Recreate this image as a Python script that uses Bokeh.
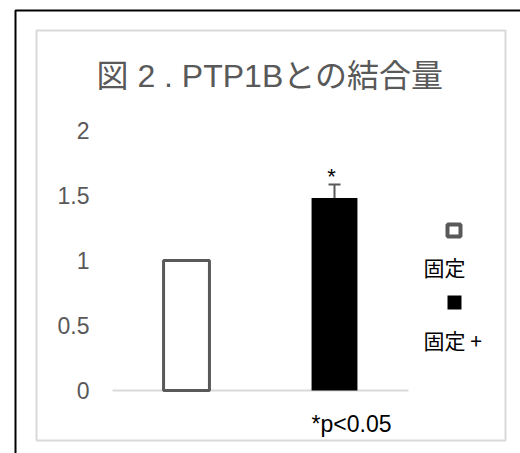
from bokeh.plotting import figure
from bokeh.models import (FactorRange, Range1d, ColumnDataSource, Whisker, TeeHead,
                          BoxAnnotation, Label)
from bokeh.core.properties import value
from bokeh.embed import file_html
from bokeh.resources import INLINE

# ---- data ----
categories = ["固定", "固定 +"]
values = [1.0, 1.48]
errors = [0.0, 0.105]
y_ticks = [0, 0.5, 1, 1.5, 2]
title_text = "図 2 . PTP1Bとの結合量"
note_text = "*p<0.05"

LATIN = "'Liberation Sans', Arial, 'Noto Sans CJK JP'"
CJK = "'Noto Sans CJK JP', 'Liberation Sans'"
GRAY = "#595959"

# ---- layout (pixels) ----
W, H = 520, 453
PL, PR, PT, PB = 110, 406, 130, 390   # plotting area edges (px)
Y0, Y1 = 0, 2
nfac = len(categories)
upp_x = nfac / (PR - PL)              # data units per px
upp_y = (Y1 - Y0) / (PB - PT)
pad = ((PL + (W - PR)) / 2) * upp_x   # per-side padding in synthetic units

x_range = FactorRange(*categories, range_padding=pad / nfac * 2, range_padding_units="percent")
y_range = Range1d(Y0 - (H - PB) * upp_y, Y1 + PT * upp_y)

p = figure(width=W, height=H, x_range=x_range, y_range=y_range,
           output_backend="svg", toolbar_location=None,
           x_axis_location=None, y_axis_location=None,
           min_border=0)
p.outline_line_color = None
p.grid.visible = False
p.background_fill_color = "white"
p.border_fill_color = "white"

def dx(px):   # canvas px -> synthetic x coordinate
    return (px - PL) * upp_x
def dy(py):   # canvas px (from top) -> y data
    return Y0 + (PB - py) * upp_y

def box(l, r, t, b, **kw):
    p.add_layout(BoxAnnotation(left=dx(l), right=dx(r), top=dy(t), bottom=dy(b),
                               line_alpha=1, fill_alpha=1, **kw))

# outer frames
box(13, 700, 10, 700, fill_color=None, line_color="black", line_width=2, level="underlay")
box(34, 503, 30, 440, fill_color=None, line_color="#d9d9d9", line_width=2, level="underlay")

# title
p.add_layout(Label(x=dx(94), y=dy(75), text=title_text, text_align="left",
                   text_baseline="middle", text_font="'Liberation Sans', 'Noto Sans CJK JP'",
                   text_font_size="32px", text_color=GRAY))

# y tick labels (value axis)
tick_src = ColumnDataSource(dict(y=y_ticks, label=[f"{t:g}" for t in y_ticks],
                                 x=[dx(87)] * len(y_ticks)))
p.text(x="x", y="y", text="label", source=tick_src, text_align="right",
       text_baseline="middle", text_font=value("Liberation Sans"),
       text_font_size="23px", text_color=GRAY)

# baseline (category axis line)
p.segment(x0=[0], x1=[nfac], y0=[Y0], y1=[Y0], line_color="#d9d9d9", line_width=2)

# bars
fills = ["white", "black"]
lines = [GRAY, "black"]
lws = [3, 0]
src = ColumnDataSource(dict(x=categories, top=values, fill=fills, line=lines, lw=lws))
p.vbar(x="x", top="top", bottom=Y0, width=0.31, source=src, fill_color="fill",
       line_color="line", line_width="lw")

# error bar + significance mark
ex = [c for c, e in zip(categories, errors) if e > 0]
ev = [v for v, e in zip(values, errors) if e > 0]
eu = [v + e for v, e in zip(values, errors) if e > 0]
esrc = ColumnDataSource(dict(x=ex, lower=ev, upper=eu, mark=["*"] * len(ex)))
w = Whisker(base="x", lower="lower", upper="upper", source=esrc,
            line_color=GRAY, line_width=2,
            upper_head=TeeHead(size=12, line_color=GRAY, line_width=2),
            lower_head=None)
p.add_layout(w)
p.text(x="x", y="upper", text="mark", source=esrc, text_align="center",
       text_baseline="alphabetic", y_offset=-8, x_offset=-3,
       text_font=value("Liberation Sans"), text_font_size="22px", text_color="black")

# legend (symbol above label)
box(445, 458, 224, 236, fill_color="white", line_color=GRAY, line_width=4)
box(445, 459, 295, 309, fill_color="black", line_color=None)
for lbl, yy in zip(categories, [266, 339]):
    p.add_layout(Label(x=dx(421), y=dy(yy), text=lbl,
                       text_align="left", text_baseline="middle",
                       text_font=CJK, text_font_size="21px", text_color="black"))

# significance note
p.add_layout(Label(x=dx(349), y=dy(423), text=note_text,
                   text_align="center", text_baseline="middle",
                   text_font=LATIN, text_font_size="23px", text_color="black"))

open("out.html", "w").write(file_html(p, INLINE))
